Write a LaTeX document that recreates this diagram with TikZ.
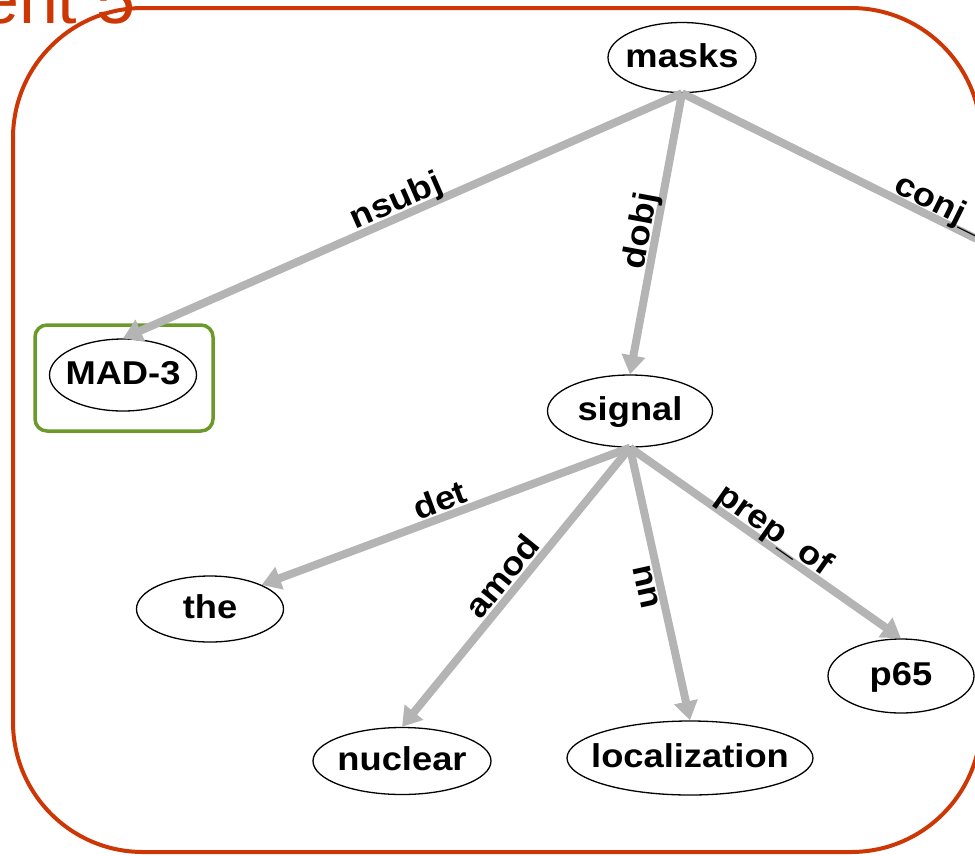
\documentclass[tikz,border=0pt]{standalone}
\usepackage{fontspec}
\setmainfont{Liberation Sans}
\newfontfamily\wordfont{Liberation Sans Bold}[FakeStretch=1.1]
\usetikzlibrary{shapes.geometric,arrows.meta}
\definecolor{framered}{RGB}{205,55,5}
\definecolor{framegreen}{RGB}{107,154,42}
\definecolor{edgegray}{RGB}{180,180,180}
% word text kept at zero width so the ellipse takes its given size
\newcommand{\wordtext}[1]{\makebox[0pt]{#1}}

\begin{document}
\begin{tikzpicture}[x=1pt,y=-1pt,
  word/.style={ellipse, draw=black, line width=1.3pt, inner sep=0pt,
    font=\wordfont\fontsize{33}{38}\selectfont, text height=19pt, text depth=0pt},
  dep/.style={draw=edgegray, line width=8pt, -{Triangle[length=19pt,width=23pt]}},
  rel/.style={font=\wordfont\fontsize{33}{38}\selectfont, inner sep=0pt,
    sloped, anchor=base, pos=0.5, text=black}
]
\useasboundingbox (0,0) rectangle (975,855);
\clip (0,0) rectangle (975,855);

% title fragment and outer frame
\node[anchor=base east, inner sep=0pt, text=framered,
  font=\fontsize{70}{80}\selectfont] (title) at (136,23) {ent 5};
\draw[framered, line width=4pt, rounded corners=130pt] (13,8) rectangle (981,852);

% highlighted subject
\node[draw=framegreen, line width=3.5pt, rounded corners=12pt,
  minimum width=178pt, minimum height=106pt, inner sep=0pt] (hl) at (124,378) {};

% words
\node[word, minimum width=148pt, minimum height=70pt] (masks)   at (682,57.5) {\wordtext{masks}};
\node[word, minimum width=147pt, minimum height=72pt] (mad)     at (123,375)  {\wordtext{MAD-3}};
\node[word, minimum width=165pt, minimum height=72pt] (signal)  at (630,411)  {\wordtext{signal}};
\node[word, minimum width=147pt, minimum height=66pt] (the)     at (210,609)  {\wordtext{the}};
\node[word, minimum width=146pt, minimum height=74pt] (p65)     at (901,676)  {\wordtext{p65}};
\node[word, minimum width=178pt, minimum height=67pt] (nuclear) at (402,761)  {\wordtext{nuclear}};
\node[word, minimum width=246pt, minimum height=74pt] (loc)     at (690,758)  {\wordtext{localization}};
\coordinate (conjend) at (1100,300);

% dependencies
\draw[dep] (masks.south) -- node[rel]{\raisebox{6pt}{nsubj}} (mad.north);
\draw[dep] (masks.south) -- node[rel]{\raisebox{6pt}{dobj}} (signal.north);
\draw[dep] (masks.south) -- node[rel, pos=0.49, anchor=base west]{\raisebox{5pt}{conj\_}} (conjend);
\draw[dep] (signal.south) -- node[rel]{\raisebox{6pt}{det}} (the.25);
\draw[dep] (signal.south) -- node[rel]{\raisebox{6pt}{amod}} (nuclear.north);
\draw[dep] (signal.south) -- node[rel]{\raisebox{-23pt}{nn}} (loc.north);
\draw[dep] (signal.south) -- node[rel]{\raisebox{6pt}{prep\_of}} (p65.north);
\end{tikzpicture}
\end{document}
